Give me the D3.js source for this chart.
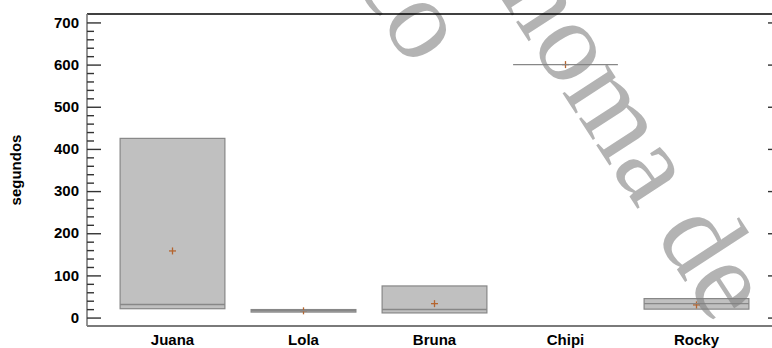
<!DOCTYPE html>
<html>
<head>
<meta charset="utf-8">
<script src="https://cdn.jsdelivr.net/npm/d3@7"></script>
<style>
  html, body { margin: 0; padding: 0; background: #fff; }
  svg { display: block; }
  text { font-family: "Liberation Sans", Arial, sans-serif; }
</style>
</head>
<body>
<svg id="chart" width="772" height="348"></svg>
<script>
// Box summaries per dog (seconds)
const categories = ["Juana", "Lola", "Bruna", "Chipi", "Rocky"];
const q1Values     = [21, 13, 11, 600, 20];
const medianValues = [31, 16, 19, 600, 33];
const q3Values     = [425, 19, 75, 600, 45];
const meanValues   = [158, 16, 33, 600, 30];
const yTicks = [0, 100, 200, 300, 400, 500, 600, 700];
const yMinorTicks = d3.range(0, 701, 20).filter(v => v % 100 !== 0);
const yLabel = "segundos";

const svg = d3.select("#chart");
const plotLeft = 87, plotRight = 772, plotTop = 14, plotBottom = 326;

const y = d3.scaleLinear().domain([-20, 720]).range([plotBottom, plotTop]);
const x = d3.scaleBand().domain(categories).range([107, 762]).paddingInner(0.2).paddingOuter(0.1);

const boxes = categories.map((c, i) => ({
  name: c, q1: q1Values[i], med: medianValues[i], q3: q3Values[i], mean: meanValues[i]
}));

// boxes
const g = svg.append("g");
g.selectAll("rect.box").data(boxes).join("rect")
  .attr("class", "box")
  .attr("x", d => x(d.name))
  .attr("width", x.bandwidth())
  .attr("y", d => y(d.q3))
  .attr("height", d => Math.max(0, y(d.q1) - y(d.q3)))
  .attr("fill", "#c0c0c0")
  .attr("stroke", "#878787")
  .attr("stroke-width", 1.2);

// mean markers (median lines are drawn over them)
const plus = g.selectAll("g.mean").data(boxes).join("g")
  .attr("class", "mean")
  .attr("transform", d => `translate(${x(d.name) + x.bandwidth() / 2},${y(d.mean)})`);
plus.append("line").attr("x1", -3.5).attr("x2", 3.5).attr("y1", 0).attr("y2", 0);
plus.append("line").attr("x1", 0).attr("x2", 0).attr("y1", -3.5).attr("y2", 3.5);
plus.selectAll("line").attr("stroke", "#b5652f").attr("stroke-width", 1.3);

g.selectAll("line.med").data(boxes).join("line")
  .attr("class", "med")
  .attr("x1", d => x(d.name))
  .attr("x2", d => x(d.name) + x.bandwidth())
  .attr("y1", d => y(d.med))
  .attr("y2", d => y(d.med))
  .attr("stroke", "#878787")
  .attr("stroke-width", 1.4);

// watermark
const wm = svg.append("g")
  .attr("fill", "#808080")
  .attr("fill-opacity", 0.6)
  .style("font-size", "116px");
wm.append("text")
  .attr("transform", "translate(498,-6) rotate(57)")
  .attr("text-anchor", "start")
  .style("font-family", "'Liberation Serif', serif")
  .text("noma de");
wm.append("text")
  .attr("transform", "translate(411,69) rotate(57)")
  .attr("text-anchor", "end")
  .style("font-family", "'Liberation Serif', serif")
  .text("co");

// frame and axes
svg.append("line").attr("x1", plotLeft).attr("x2", plotRight).attr("y1", plotTop).attr("y2", plotTop)
  .attr("stroke", "#000").attr("stroke-width", 1.3);
svg.append("line").attr("x1", plotLeft).attr("x2", plotLeft).attr("y1", plotTop).attr("y2", plotBottom)
  .attr("stroke", "#7a7a7a").attr("stroke-width", 1.6);
svg.append("line").attr("x1", plotLeft).attr("x2", plotRight).attr("y1", plotBottom).attr("y2", plotBottom)
  .attr("stroke", "#7a7a7a").attr("stroke-width", 2);

const yAxis = d3.axisRight(y).tickValues(yTicks).tickSize(14).tickFormat("");
svg.append("g").attr("transform", `translate(${plotLeft},0)`).call(yAxis)
  .call(a => a.select(".domain").remove())
  .selectAll("line").attr("stroke", "#333").attr("stroke-width", 1.4);
const yMinor = d3.axisRight(y).tickValues(yMinorTicks).tickSize(7).tickFormat("");
svg.append("g").attr("transform", `translate(${plotLeft},0)`).call(yMinor)
  .call(a => a.select(".domain").remove())
  .selectAll("line").attr("stroke", "#333").attr("stroke-width", 1.4);
const yRight = d3.axisLeft(y).tickValues(yTicks).tickSize(4).tickFormat("");
svg.append("g").attr("transform", `translate(${plotRight},0)`).call(yRight)
  .call(a => a.select(".domain").remove())
  .selectAll("line").attr("stroke", "#333").attr("stroke-width", 1.4);

// tick labels
svg.append("g").selectAll("text").data(yTicks).join("text")
  .attr("x", 79).attr("y", d => y(d)).attr("dy", "0.35em")
  .attr("text-anchor", "end")
  .style("font-size", "15px").style("font-weight", "bold")
  .text(d => d);

svg.append("g").selectAll("text").data(categories).join("text")
  .attr("x", d => x(d) + x.bandwidth() / 2).attr("y", 345)
  .attr("text-anchor", "middle")
  .style("font-size", "15px").style("font-weight", "bold")
  .text(d => d);

svg.append("text")
  .attr("transform", "translate(21,170) rotate(-90)")
  .attr("text-anchor", "middle")
  .style("font-size", "15px").style("font-weight", "bold")
  .text(yLabel);
</script>
</body>
</html>
